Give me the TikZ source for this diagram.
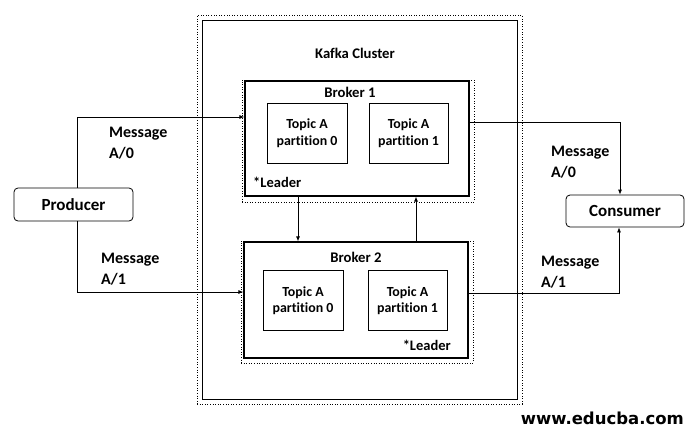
\documentclass[tikz,border=0pt]{standalone}
\usepackage{fontspec}
\setmainfont{Carlito}[Ligatures=NoCommon]
\newfontfamily\urlfont{DejaVu Sans}
\usetikzlibrary{arrows.meta}
\tikzset{
  box/.style={draw=black, line width=0.8pt, rectangle, inner sep=0pt},
  brokerbox/.style={draw=black, line width=1.2pt, rectangle, inner sep=0pt, minimum width=224pt},
  partbox/.style={draw=black, line width=0.8pt, rectangle, inner sep=0pt, minimum width=80pt, minimum height=60pt, align=center, font=\fontsize{13.9}{16.5}\selectfont\bfseries},
  endbox/.style={draw=black, line width=0.8pt, rounded corners=4pt, inner sep=0pt, minimum width=118pt, minimum height=33pt, font=\fontsize{17}{20}\selectfont\bfseries},
  dotbox/.style={draw=black, dotted, line width=0.6pt, rectangle, inner sep=0pt},
  arr/.style={line width=0.8pt, -{Latex[length=5pt,width=4pt]}},
  msg/.style={anchor=west, align=left, inner sep=0pt, font=\fontsize{16}{21}\selectfont\bfseries},
  lbl/.style={inner sep=0pt, font=\fontsize{14.7}{17}\selectfont\bfseries},
}
\begin{document}
\begin{tikzpicture}[x=1pt,y=-1pt]
\useasboundingbox[fill=white] (0,0) rectangle (692,436);
% cluster
\node[dotbox, minimum width=325pt, minimum height=389pt] (clusterdot) at (359.5,209.5) {};
\node[box, minimum width=315pt, minimum height=379pt] (cluster) at (359.5,209.5) {};
\node[lbl] (kafka) at (355,53) {Kafka Cluster};
% broker 1
\node[dotbox, minimum width=232pt, minimum height=122pt] (b1dot) at (358,141) {};
\node[brokerbox, minimum height=115pt, fill=white] (b1) at (357,138.5) {};
\node[lbl] (b1t) at (350,92) {Broker 1};
\node[partbox] (p10) at (307,133) {Topic A\\partition 0};
\node[partbox, minimum width=79pt] (p11) at (408.5,133) {Topic A\\partition 1};
\node[lbl, anchor=west, font=\fontsize{14.5}{17}\selectfont\bfseries] (l1) at (253,182) {*Leader};
% broker 2
\node[dotbox, minimum width=232pt, minimum height=122pt] (b2dot) at (357,302) {};
\node[brokerbox, minimum height=116pt, fill=white] (b2) at (356,300) {};
\node[lbl] (b2t) at (356,257) {Broker 2};
\node[partbox] (p20) at (303,300.5) {Topic A\\partition 0};
\node[partbox, minimum width=79pt] (p21) at (407.5,300.5) {Topic A\\partition 1};
\node[lbl, anchor=east, font=\fontsize{14.5}{17}\selectfont\bfseries] (l2) at (451,345) {*Leader};
% producer / consumer
\node[endbox, minimum width=119pt] (producer) at (73.5,204.5) {Producer};
\node[endbox, minimum height=32pt] (consumer) at (625,211) {Consumer};
% connectors
\draw[arr] ([xshift=3.5pt]producer.north) |- ([yshift=21.5pt]b1.west);
\draw[arr] ([xshift=3.5pt]producer.south) |- ([yshift=8pt]b2.west);
\draw[arr] ([xshift=-59pt]b1.south) -- ([xshift=-59pt]b1.south |- b2.north);
\draw[arr] ([xshift=60pt]b2.north) -- ([xshift=60pt]b2.north |- b1.south);
\draw[arr] ([yshift=16.5pt]b1.east) -| ([xshift=-5pt]consumer.north);
\draw[arr] ([yshift=7pt]b2.east) -| ([xshift=-6pt]consumer.south);
% labels
\node[msg] (m1) at (109,143.5) {Message\\A/0};
\node[msg] (m2) at (101,269) {Message\\A/1};
\node[msg] (m3) at (551,162) {Message\\A/0};
\node[msg] (m4) at (541,272.5) {Message\\A/1};
\node[inner sep=0pt, anchor=east, font=\fontsize{16.5}{20}\selectfont\urlfont\bfseries] (url) at (684,418) {www.educba.com};
\end{tikzpicture}
\end{document}
